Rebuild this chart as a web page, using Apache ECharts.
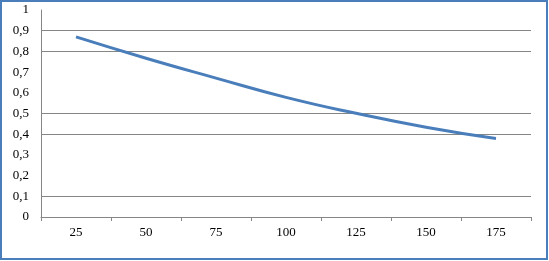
<!DOCTYPE html>
<html>
<head>
<meta charset="utf-8">
<script src="https://cdn.jsdelivr.net/npm/echarts@6/dist/echarts.min.js"></script>
<style>
html,body{margin:0;padding:0;background:#fff;}
#c{width:549px;height:261px;}
</style>
</head>
<body>
<div id="c"></div>
<script>
var categories = ['25', '50', '75', '100', '125', '150', '175'];
var values = [0.87, 0.767, 0.671, 0.578, 0.501, 0.434, 0.379];
var yTicks = [0, 0.1, 0.2, 0.3, 0.4, 0.5, 0.6, 0.7, 0.8, 0.9, 1];

var G = '#868686', T = 'rgba(0,0,0,0)';
var gridColors = [G, G, T, T, G, G, T, T, G, G, T];

var chart = echarts.init(document.getElementById('c'), null, {renderer: 'canvas'});
chart.setOption({
  animation: false,
  backgroundColor: '#fff',
  grid: {left: 41, right: 18, top: 10, bottom: 44, containLabel: false},
  graphic: [{
    type: 'rect', z: 100, silent: true,
    shape: {x: 1, y: 1, width: 546, height: 258},
    style: {fill: 'none', stroke: '#4a7ebb', lineWidth: 2}
  }],
  xAxis: {
    type: 'category',
    data: categories,
    boundaryGap: true,
    axisLine: {lineStyle: {color: G, width: 1}},
    axisTick: {show: true, length: 4, lineStyle: {color: G}},
    axisLabel: {fontFamily: 'Liberation Serif', fontSize: 13, color: '#000', margin: 9}
  },
  yAxis: {
    type: 'value',
    min: yTicks[0], max: yTicks[yTicks.length - 1], interval: 0.1,
    axisLine: {show: true, lineStyle: {color: G, width: 1}},
    axisTick: {show: false},
    axisLabel: {
      fontFamily: 'Liberation Serif', fontSize: 13, color: '#000', margin: 12,
      formatter: function (v) { return String(Math.round(v * 10) / 10).replace('.', ','); }
    },
    splitLine: {show: true, showMinLine: true, showMaxLine: true, lineStyle: {color: gridColors, width: 1}}
  },
  series: [{
    type: 'line',
    data: values,
    smooth: true,
    showSymbol: false,
    symbol: 'none',
    lineStyle: {color: '#4a7ebb', width: 3}
  }]
});
</script>
</body>
</html>
